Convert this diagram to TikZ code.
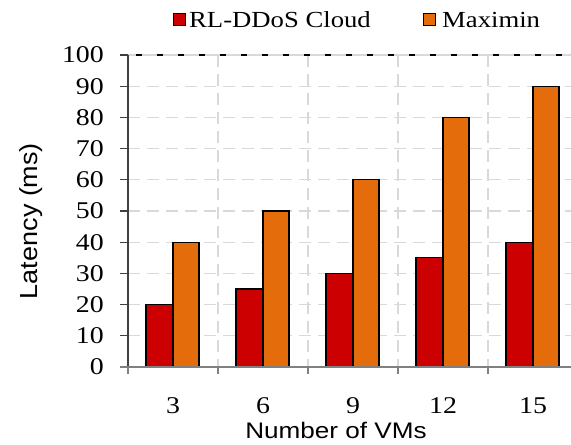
\documentclass[tikz,border=0pt]{standalone}
\usepackage{graphicx}
\usepackage{fontspec}
\setmainfont{Liberation Serif}
\newfontfamily\axisfont{Liberation Sans}
\newcommand\hstretch[1]{\scalebox{1.16}[1]{#1}}
\definecolor{barred}{HTML}{CC0000}
\definecolor{barorange}{HTML}{E46C0A}
\definecolor{gridgray}{HTML}{D9D9D9}
\definecolor{axisgray}{HTML}{808080}
\begin{document}
\begin{tikzpicture}[x=1pt,y=-1pt,
  gridline/.style={gridgray,line width=1.3pt,dash pattern=on 12pt off 7pt},
  bar/.style={draw=black,line width=1.3pt},
  redbar/.style={bar,fill=barred},
  orangebar/.style={bar,fill=barorange},
  ticklabel/.style={font=\fontsize{24}{26}\selectfont,inner sep=0pt},
  legendlabel/.style={font=\fontsize{23}{26}\selectfont,inner sep=0pt},
  axistitle/.style={font=\axisfont\fontsize{22.5}{26}\selectfont,inner sep=0pt},
  legendbox/.style={draw=black,line width=1pt,minimum size=12pt,inner sep=0pt}]
\useasboundingbox (0,0) rectangle (571,445);

% value axis: 0 at y=367, 100 at y=55
\def\yzero{367}
\def\yunit{3.12}

% horizontal grid
\foreach \v in {10,20,...,90}
  \draw[gridline] (128,{\yzero-\v*\yunit}) -- (571,{\yzero-\v*\yunit});
% vertical grid at the category boundaries
\foreach \gx in {218,308,398,488}
  \draw[gridline] (\gx,55) -- (\gx,\yzero);
% top border
\draw[gridgray,line width=1.3pt] (120,55) -- (571,55);
\draw[black,line width=1.6pt,dash pattern=on 6pt off 15pt,dash phase=-8pt] (128,55) -- (571,55);

% bars
\foreach \c/\r/\o in {173/20/40,263/25/50,353/30/60,443/35/80,533/40/90}{
  \draw[redbar] (\c-27,\yzero) rectangle (\c,{\yzero-\r*\yunit});
  \draw[orangebar] (\c,\yzero) rectangle (\c+26,{\yzero-\o*\yunit});
}

% axes
\draw[black!75,line width=1.3pt] (128,55) -- (128,\yzero);
\foreach \v in {0,10,...,100}
  \draw[black!75,line width=1.3pt] (120,{\yzero-\v*\yunit}) -- (128,{\yzero-\v*\yunit});
\draw[axisgray,line width=2pt] (120,\yzero) -- (571,\yzero);
\foreach \gx in {128,218,308,398,488}
  \draw[axisgray,line width=2pt] (\gx,\yzero) -- (\gx,374);

% tick labels
\foreach \v in {0,10,...,100}
  \node[ticklabel,anchor=east] (y\v) at (104,{\yzero-\v*\yunit}) {\hstretch{\v}};
\foreach \c/\n in {173/3,263/6,353/9,443/12,533/15}
  \node[ticklabel] (x\n) at (\c,406) {\hstretch{\n}};

% axis titles
\node[axistitle] (xtitle) at (336,430) {\hstretch{Number of VMs}};
\node[axistitle,rotate=90] (ytitle) at (31,221) {\scalebox{1.2}[1.1]{Latency (ms)}};

% legend
\node[legendbox,fill=barred] (lgred) at (179,19) {};
\node[legendlabel,anchor=west] (lgredtext) at (189,20) {\hstretch{RL-DDoS Cloud}};
\node[legendbox,fill=barorange] (lgorange) at (429,19) {};
\node[legendlabel,anchor=west] (lgorangetext) at (442,20) {\hstretch{Maximin}};
\end{tikzpicture}
\end{document}
